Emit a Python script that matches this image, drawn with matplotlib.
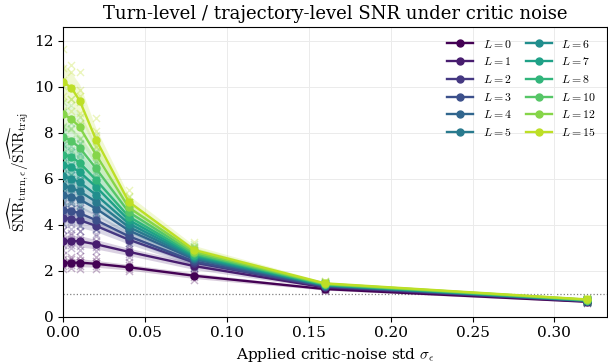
import numpy as np
import matplotlib.pyplot as plt

plt.rcParams['font.family'] = 'DejaVu Serif'
plt.rcParams['mathtext.fontset'] = 'cm'

# noise levels applied to the critic
sigma = [0.0, 0.005, 0.01, 0.02, 0.04, 0.08, 0.16, 0.32]

# horizons
L_values = [0, 1, 2, 3, 4, 5, 6, 7, 8, 10, 12, 15]

# mean SNR ratio per horizon
ratio_mean = {
    0:  [2.35, 2.35, 2.35, 2.30, 2.15, 1.78, 1.20, 0.65],
    1:  [3.30, 3.30, 3.28, 3.15, 2.82, 2.20, 1.27, 0.67],
    2:  [4.30, 4.25, 4.20, 3.95, 3.35, 2.35, 1.30, 0.68],
    3:  [4.65, 4.60, 4.50, 4.20, 3.50, 2.40, 1.32, 0.69],
    4:  [5.30, 5.20, 5.10, 4.70, 3.75, 2.50, 1.35, 0.70],
    5:  [5.70, 5.60, 5.45, 5.00, 3.90, 2.55, 1.36, 0.70],
    6:  [6.10, 6.00, 5.85, 5.30, 4.05, 2.60, 1.37, 0.71],
    7:  [6.60, 6.50, 6.30, 5.65, 4.20, 2.65, 1.38, 0.72],
    8:  [7.05, 6.95, 6.70, 5.95, 4.35, 2.70, 1.40, 0.72],
    10: [7.80, 7.65, 7.35, 6.45, 4.55, 2.75, 1.41, 0.73],
    12: [8.80, 8.60, 8.25, 7.05, 4.75, 2.82, 1.43, 0.74],
    15: [10.20, 9.95, 9.40, 7.70, 5.00, 2.90, 1.45, 0.75],
}

# relative deviation of each seed from the mean (seed x sigma)
seed_dev = [
    [-0.12, -0.10, -0.11, -0.09, -0.08, -0.10, -0.06, -0.09],
    [-0.06, -0.05, -0.06, -0.04, -0.04, -0.04, -0.02, -0.03],
    [0.01, 0.00, 0.02, 0.01, 0.00, 0.01, 0.01, 0.00],
    [0.06, 0.07, 0.05, 0.05, 0.05, 0.05, 0.03, 0.04],
    [0.14, 0.10, 0.13, 0.12, 0.10, 0.12, 0.07, 0.08],
]

colors = plt.cm.viridis(np.linspace(0, 0.9, len(L_values)))
x = np.array(sigma)
dev = np.array(seed_dev)

fig, ax = plt.subplots(figsize=(6.08, 3.64), dpi=100)

for L, c in zip(L_values, colors):
    m = np.array(ratio_mean[L])
    seeds = m[None, :] * (1 + dev)
    for s in seeds:
        ax.scatter(x, s, marker='x', s=26, color=c, alpha=0.3, linewidths=1, zorder=2)
    sem = seeds.std(axis=0) / np.sqrt(len(seeds)) * 2.0
    ax.fill_between(x, m - sem, m + sem, color=c, alpha=0.2, linewidth=0, zorder=1)
    ax.plot(x, m, '-o', color=c, lw=1.7, ms=5, label=r'$L=%d$' % L, zorder=3)

ax.axhline(1.0, color='gray', ls=':', lw=0.9, zorder=0)

ax.set_xlim(0, 0.332)
ax.set_ylim(0, 12.6)
ax.set_yticks([0, 2, 4, 6, 8, 10, 12])
ax.grid(True, color='#ebebeb', lw=0.7)
ax.set_axisbelow(True)
ax.tick_params(labelsize=11)

ax.set_xlabel(r'Applied critic-noise std $\sigma_\epsilon$', fontsize=11)
ax.set_ylabel(r'$\widehat{\mathrm{SNR}}_{\mathrm{turn},\epsilon}/\widehat{\mathrm{SNR}}_{\mathrm{traj}}$',
              fontsize=11, labelpad=2)
ax.set_title('Turn-level / trajectory-level SNR under critic noise', fontsize=13)

ax.legend(ncol=2, fontsize=8.5, frameon=False, loc='upper right', handlelength=2.2,
          columnspacing=1.2, labelspacing=0.4)

plt.subplots_adjust(left=0.104, right=0.998, top=0.926, bottom=0.13)
plt.savefig('out.png', dpi=100)
